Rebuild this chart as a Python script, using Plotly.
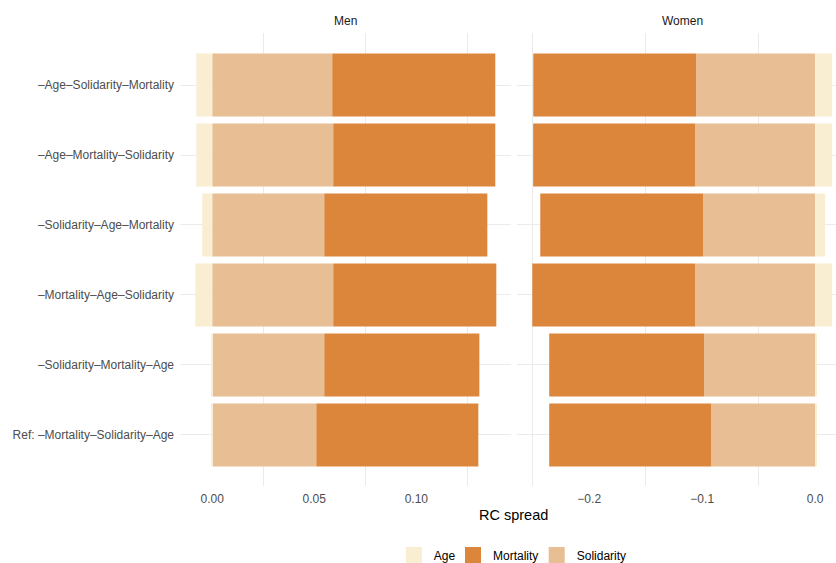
import plotly.graph_objects as go

# Decomposition orderings (top to bottom)
orderings = [
    "–Age–Solidarity–Mortality",
    "–Age–Mortality–Solidarity",
    "–Solidarity–Age–Mortality",
    "–Mortality–Age–Solidarity",
    "–Solidarity–Mortality–Age",
    "Ref: –Mortality–Solidarity–Age",
]

# Contributions to the RC spread, men
men_age = [-0.0078, -0.0078, -0.0049, -0.0083, -0.0005, -0.0005]
men_mortality = [0.0799, 0.0794, 0.0799, 0.0799, 0.0760, 0.0794]
men_solidarity = [0.0588, 0.0593, 0.0549, 0.0593, 0.0549, 0.0510]

# Contributions to the RC spread, women
women_age = [0.0150, 0.0150, 0.0088, 0.0150, 0.0008, 0.0008]
women_mortality = [-0.1442, -0.1434, -0.1442, -0.1442, -0.1372, -0.1434]
women_solidarity = [-0.1053, -0.1062, -0.0991, -0.1062, -0.0982, -0.0920]

factors = ["Age", "Mortality", "Solidarity"]
colors = {"Age": "#FAEED2", "Mortality": "#DC863B", "Solidarity": "#E8BE94"}

W, H = 836, 563


def px_x(p):
    return p / W


def px_y(p):
    return (H - p) / H


fig = go.Figure()

# Stack order from zero outwards: Solidarity, Mortality, Age
panels = [
    ("x", {"Age": men_age, "Mortality": men_mortality, "Solidarity": men_solidarity}),
    ("x2", {"Age": women_age, "Mortality": women_mortality, "Solidarity": women_solidarity}),
]
for xa, data in panels:
    for f in ["Solidarity", "Mortality", "Age"]:
        fig.add_trace(go.Bar(
            x=data[f], y=orderings, orientation="h", xaxis=xa, yaxis="y",
            marker=dict(color=colors[f], line=dict(width=0)),
            width=0.9, showlegend=False, name=f,
        ))

# Legend entries, one small legend box per factor
legend_names = ["legend", "legend2", "legend3"]
legend_centers = [413.8, 473.0, 556.7]
for f, lg in zip(factors, legend_names):
    fig.add_trace(go.Scatter(
        x=[None], y=[None], mode="markers", name=f, xaxis="x", yaxis="y",
        legend=lg,
        marker=dict(symbol="square", size=16, color=colors[f], line=dict(width=0)),
    ))

grid = "#EBEBEB"
tickfont = dict(family="Liberation Sans, Arial, sans-serif", size=12, color="#4D4D4D")

legend_layout = {}
for lg, cx in zip(legend_names, legend_centers):
    legend_layout[lg] = dict(
        orientation="h", x=px_x(cx - 20), xanchor="left", y=px_y(555), yanchor="middle",
        font=dict(size=12, color="black"), bgcolor="rgba(0,0,0,0)",
    )

fig.update_layout(
    width=W, height=H,
    margin=dict(l=0, r=0, t=0, b=0, autoexpand=False),
    paper_bgcolor="white", plot_bgcolor="white",
    barmode="relative", bargap=0.1,
    font=dict(family="Liberation Sans, Arial, sans-serif", color="black"),
    xaxis=dict(
        domain=[px_x(180), px_x(511)], range=[-0.0158, 0.1464],
        tickvals=[0.0, 0.05, 0.10], ticktext=["0.00", "0.05", "0.10"],
        showgrid=False, zeroline=False, showline=False, ticks="",
        tickfont=tickfont, anchor="y", ticklabelstandoff=4,
        minor=dict(showgrid=True, gridcolor=grid, gridwidth=1.2, tick0=0.025, dtick=0.05),
    ),
    xaxis2=dict(
        domain=[px_x(517), 1.0], range=[-0.2639, 0.0184],
        tickvals=[-0.2, -0.1, 0.0], ticktext=["−0.2", "−0.1", "0.0"],
        showgrid=False, zeroline=False, showline=False, ticks="",
        tickfont=tickfont, anchor="y", ticklabelstandoff=4,
        minor=dict(showgrid=True, gridcolor=grid, gridwidth=1.2, tick0=0.05, dtick=0.1),
    ),
    yaxis=dict(
        domain=[px_y(486), px_y(33)],
        type="category", categoryorder="array", categoryarray=orderings,
        range=[5.729, -0.743],
        showgrid=True, gridcolor=grid, gridwidth=1.2,
        zeroline=False, showline=False, ticks="",
        tickfont=tickfont, anchor="x", ticklabelstandoff=5,
    ),
    annotations=[
        dict(text="Men", x=px_x(345.5), y=px_y(21), xref="paper", yref="paper",
             xanchor="center", yanchor="middle",
             showarrow=False, font=dict(size=12, color="#1A1A1A")),
        dict(text="Women", x=px_x(682), y=px_y(21), xref="paper", yref="paper",
             xanchor="center", yanchor="middle",
             showarrow=False, font=dict(size=12, color="#1A1A1A")),
        dict(text="RC spread", x=px_x(513.5), y=px_y(515), xref="paper", yref="paper",
             xanchor="center", yanchor="middle",
             showarrow=False, font=dict(size=14.5, color="black")),
    ],
    **legend_layout,
)

fig.write_html("out.html")
